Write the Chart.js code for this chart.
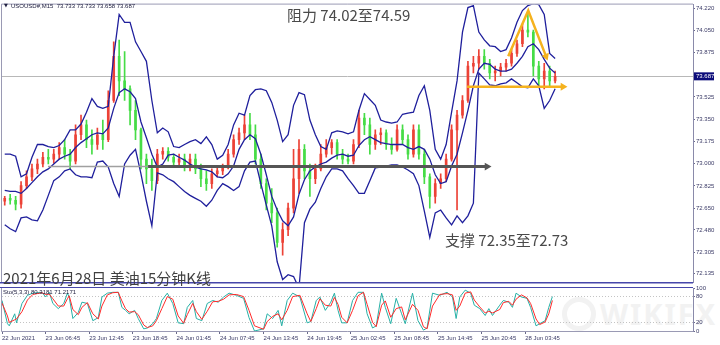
<!DOCTYPE html>
<html>
<head>
<meta charset="utf-8">
<title>USOUSD M15</title>
<script src="https://cdn.jsdelivr.net/npm/chart.js"></script>
<style>
  body { margin: 0; background: #fff; }
  #wrap { position: relative; width: 720px; height: 345px; overflow: hidden; background: #fff; }
  canvas { position: absolute; left: 0; }
  #priceChart { top: 0; }
  #stochChart { top: 282px; }
  .note { position: absolute; font-family: "Noto Sans CJK SC", sans-serif; color: #4a4a4a; white-space: nowrap; line-height: 1; font-size: 15px; }
  .mark { position: absolute; color: #f2f2f2; font-family: "Noto Sans", sans-serif; font-weight: bold; }
</style>
</head>
<body>
<div id="wrap">
  <div class="mark" style="left:562px; top:297px; width:24px; height:24px; border:5px solid #f2f2f2; border-radius:50%;"></div>
  <div class="mark" style="left:600px; top:294px; font-size:29px; letter-spacing:2px;">WIKIFX</div>
  <canvas id="priceChart" width="720" height="287"></canvas>
  <canvas id="stochChart" width="720" height="63"></canvas>
  <div class="note" style="left:287px; top:7px;">阻力 74.02至74.59</div>
  <div class="note" style="left:445px; top:232px;">支撑 72.35至72.73</div>
  <div class="note" style="left:3px; top:270px; color:#404040;">2021年6月28日 美油15分钟K线</div>
</div>

<script>
// 45-minute candles (one per 3 M15 bars)
const candleOpen = [
  72.705, 72.728, 72.713, 72.682, 72.828, 72.897, 72.959, 72.998, 73.051, 73.036,
  73.075, 73.127, 73.075, 73.021, 73.228, 73.305, 73.189, 73.151, 73.228, 73.189,
  73.497, 73.844, 73.651, 73.589, 73.420, 73.266, 73.036, 72.959, 72.867, 73.075,
  73.098, 73.051, 73.013, 73.036, 72.982, 73.036, 72.959, 72.882, 72.844, 72.921,
  72.944, 72.974, 73.075, 73.189, 73.243, 73.305, 73.228, 73.036, 72.844, 72.690,
  72.613, 72.382, 72.482, 72.651, 72.882, 73.113, 72.944, 72.882, 72.959, 73.075,
  73.127, 73.166, 73.075, 73.036, 73.021, 73.151, 73.358, 73.305, 73.151, 73.228,
  73.243, 73.151, 73.113, 73.266, 73.189, 73.075, 73.266, 73.075, 72.897, 72.743,
  72.844, 72.882, 73.036, 73.266, 73.382, 73.497, 73.767, 73.790, 73.844, 73.790,
  73.713, 73.728, 73.759, 73.790, 73.867, 73.943, 74.051, 74.035, 73.767, 73.667,
  73.728, 73.651
];
const candleHigh = [
  72.743, 72.759, 72.743, 72.859, 72.944, 72.998, 73.036, 73.090, 73.113, 73.113,
  73.166, 73.189, 73.113, 73.305, 73.382, 73.343, 73.266, 73.281, 73.343, 73.574,
  73.958, 73.973, 73.882, 73.613, 73.497, 73.281, 73.075, 73.036, 73.113, 73.127,
  73.127, 73.075, 73.075, 73.075, 73.075, 73.075, 72.998, 72.944, 72.959, 72.974,
  72.998, 73.113, 73.228, 73.281, 73.382, 73.397, 73.305, 73.075, 72.882, 72.805,
  72.651, 72.536, 72.690, 73.113, 73.189, 73.151, 72.998, 72.998, 73.151, 73.189,
  73.189, 73.189, 73.113, 73.075, 73.189, 73.420, 73.397, 73.358, 73.266, 73.281,
  73.266, 73.204, 73.305, 73.305, 73.228, 73.305, 73.305, 73.113, 72.921, 72.882,
  72.921, 73.075, 73.305, 73.420, 73.536, 73.805, 73.844, 73.897, 73.897, 73.820,
  73.767, 73.790, 73.820, 73.897, 73.973, 74.097, 74.174, 74.051, 73.805, 73.790,
  73.767, 73.728
];
const candleLow = [
  72.674, 72.682, 72.636, 72.651, 72.805, 72.867, 72.921, 72.974, 72.998, 73.005,
  73.036, 73.036, 72.959, 72.998, 73.189, 73.127, 73.075, 73.113, 73.113, 73.174,
  73.482, 73.536, 73.497, 73.305, 73.189, 72.959, 72.844, 72.790, 72.844, 73.036,
  73.021, 72.974, 72.974, 72.944, 72.944, 72.921, 72.820, 72.790, 72.805, 72.897,
  72.913, 72.959, 73.051, 73.151, 73.189, 73.189, 72.998, 72.805, 72.636, 72.536,
  72.344, 72.282, 72.435, 72.613, 72.767, 72.882, 72.743, 72.844, 72.944, 73.051,
  73.075, 73.036, 72.998, 72.998, 72.998, 73.127, 73.228, 73.075, 73.113, 73.151,
  73.113, 73.075, 73.098, 73.151, 73.036, 73.051, 73.036, 72.844, 72.651, 72.690,
  72.805, 72.859, 73.021, 72.636, 73.358, 73.482, 73.713, 73.744, 73.744, 73.667,
  73.651, 73.690, 73.728, 73.767, 73.844, 73.920, 73.997, 73.690, 73.613, 73.589,
  73.613, 73.636
];
const candleClose = [
  72.728, 72.713, 72.682, 72.828, 72.897, 72.959, 72.998, 73.051, 73.036, 73.075,
  73.127, 73.075, 73.021, 73.228, 73.305, 73.189, 73.151, 73.228, 73.189, 73.497,
  73.844, 73.651, 73.589, 73.420, 73.266, 73.036, 72.959, 72.867, 73.075, 73.098,
  73.051, 73.013, 73.036, 72.982, 73.036, 72.959, 72.882, 72.844, 72.921, 72.944,
  72.974, 73.075, 73.189, 73.243, 73.305, 73.228, 73.036, 72.844, 72.690, 72.613,
  72.382, 72.482, 72.651, 72.882, 73.113, 72.944, 72.882, 72.959, 73.075, 73.127,
  73.166, 73.075, 73.036, 73.021, 73.151, 73.358, 73.305, 73.151, 73.228, 73.243,
  73.151, 73.113, 73.266, 73.189, 73.075, 73.266, 73.075, 72.897, 72.743, 72.844,
  72.882, 73.036, 73.266, 73.382, 73.497, 73.767, 73.790, 73.844, 73.790, 73.713,
  73.728, 73.759, 73.790, 73.867, 73.943, 74.051, 74.035, 73.767, 73.667, 73.728,
  73.651, 73.687
];

// Bollinger bands read at each candle
const bandUpper = [
  73.075, 73.075, 73.059, 72.897, 72.921, 73.051, 73.151, 73.151, 73.135, 73.127,
  73.143, 73.189, 73.266, 73.266, 73.312, 73.405, 73.512, 73.451, 73.435, 73.451,
  73.844, 74.174, 74.112, 74.112, 73.958, 73.882, 73.805, 73.497, 73.243, 73.281,
  73.251, 73.135, 73.127, 73.151, 73.174, 73.189, 73.158, 73.212, 73.151, 73.036,
  73.067, 73.151, 73.305, 73.397, 73.382, 73.536, 73.582, 73.589, 73.574, 73.482,
  73.343, 73.174, 73.228, 73.459, 73.559, 73.543, 73.343, 73.228, 73.135, 73.113,
  73.243, 73.258, 73.251, 73.235, 73.251, 73.420, 73.551, 73.505, 73.459, 73.343,
  73.328, 73.320, 73.328, 73.389, 73.397, 73.405, 73.536, 73.613, 73.420, 73.113,
  73.036, 73.151, 73.405, 73.651, 74.035, 74.228, 74.243, 74.035, 73.973, 73.927,
  73.920, 73.882, 73.897, 73.989, 74.112, 74.204, 74.243, 74.258, 74.251, 74.174,
  73.867, 73.828
];
const bandMiddle = [
  72.790, 72.782, 72.782, 72.767, 72.805, 72.851, 72.897, 72.936, 72.959, 72.998,
  73.036, 73.059, 73.075, 73.127, 73.166, 73.197, 73.228, 73.243, 73.235, 73.281,
  73.435, 73.559, 73.589, 73.566, 73.512, 73.328, 73.204, 73.075, 72.974, 72.998,
  73.067, 73.075, 73.051, 73.028, 72.998, 72.974, 72.959, 72.951, 72.936, 72.897,
  72.890, 72.921, 72.982, 73.113, 73.189, 73.228, 73.197, 73.075, 72.913, 72.743,
  72.636, 72.551, 72.512, 72.582, 72.759, 72.874, 72.944, 72.974, 72.998, 73.013,
  73.044, 73.067, 73.075, 73.059, 73.067, 73.143, 73.189, 73.212, 73.189, 73.166,
  73.158, 73.151, 73.151, 73.151, 73.127, 73.113, 73.135, 73.113, 73.036, 72.913,
  72.844, 72.859, 72.982, 73.075, 73.243, 73.420, 73.613, 73.744, 73.790, 73.782,
  73.744, 73.728, 73.728, 73.744, 73.790, 73.844, 73.920, 73.943, 73.897, 73.820,
  73.751, 73.713
];
const bandLower = [
  72.520, 72.489, 72.466, 72.574, 72.582, 72.559, 72.551, 72.636, 72.751, 72.867,
  72.897, 72.944, 72.959, 72.913, 72.897, 72.897, 72.890, 73.013, 73.021, 72.974,
  72.844, 72.743, 72.998, 73.067, 73.113, 72.921, 72.705, 72.512, 72.928, 72.913,
  72.882, 72.859, 72.820, 72.782, 72.751, 72.728, 72.705, 72.666, 72.713, 72.790,
  72.844, 72.820, 72.790, 72.820, 72.944, 73.013, 73.021, 72.844, 72.674, 72.512,
  72.229, 72.090, 72.128, 72.113, 72.021, 72.536, 72.643, 72.697, 72.805, 72.897,
  72.959, 72.959, 72.944, 72.882, 72.828, 72.767, 72.767, 72.867, 72.967, 72.974,
  72.982, 72.990, 72.990, 72.974, 72.951, 72.921, 72.828, 72.628, 72.420, 72.613,
  72.636, 72.574, 72.520, 72.590, 72.536, 72.590, 72.690, 73.713, 73.667, 73.620,
  73.613, 73.628, 73.636, 73.667, 73.636, 73.605, 73.597, 73.667, 73.613, 73.435,
  73.497, 73.589
];

// Stochastic (5,3,3), sampled at M15 bar numbers
const stochBar = [
  0, 3, 4, 7, 8, 11, 14, 17, 22, 24,
  26, 28, 31, 34, 36, 37, 39, 42, 44, 47,
  50, 53, 55, 58, 61, 64, 66, 68, 70, 73,
  75, 78, 80, 83, 85, 88, 91, 94, 97, 100,
  102, 105, 107, 110, 113, 116, 119, 122, 125, 129,
  133, 136, 139, 144, 146, 149, 152, 154, 157, 160,
  164, 168, 170, 173, 175, 178, 181, 183, 185, 187,
  190, 193, 196, 199, 201, 204, 206, 209, 211, 214,
  217, 220, 222, 226, 229, 232, 234, 237, 241, 245,
  248, 250, 252, 255, 258, 260, 263, 266, 268, 270,
  274, 276, 279, 281, 283, 286, 289, 291, 294, 296,
  299, 301, 303
];
const stochMain = [
  71, 17, 12, 40, 19, 64, 83, 88, 90, 79,
  90, 64, 52, 64, 88, 79, 29, 43, 67, 64,
  24, 31, 79, 88, 90, 90, 55, 48, 40, 48,
  29, 5, 7, 17, 29, 71, 88, 64, 19, 17,
  55, 71, 29, 24, 64, 71, 67, 79, 88, 83,
  76, 31, 0, 5, 40, 29, 48, 12, 71, 88,
  79, 19, 22, 71, 79, 48, 67, 88, 48, 19,
  19, 71, 90, 90, 40, 7, 12, 88, 55, 17,
  76, 40, 17, 88, 24, 2, 7, 88, 83, 90,
  79, 29, 79, 95, 88, 60, 52, 36, 52, 36,
  60, 71, 67, 55, 88, 79, 76, 55, 12, 17,
  24, 55, 80
];
const stochSignal = [
  65, 35, 20, 26, 28, 45, 72, 85, 89, 85,
  86, 75, 58, 58, 75, 82, 50, 38, 55, 66,
  40, 28, 58, 84, 89, 90, 70, 52, 44, 45,
  38, 14, 8, 12, 24, 52, 80, 74, 35, 18,
  38, 64, 45, 27, 46, 68, 69, 74, 84, 85,
  80, 48, 12, 4, 22, 34, 40, 26, 48, 80,
  83, 40, 22, 52, 75, 60, 58, 78, 62, 32,
  19, 48, 82, 90, 62, 20, 10, 60, 70, 32,
  52, 56, 26, 62, 48, 10, 5, 58, 85, 87,
  84, 48, 58, 88, 91, 72, 56, 42, 46, 42,
  50, 66, 69, 60, 74, 84, 77, 64, 28, 15,
  21, 40, 71
];

const priceTicks = [74.22, 74.05, 73.875, 73.525, 73.35, 73.175, 73.0, 72.825, 72.65, 72.48, 72.305, 72.135];
const stochTicks = [0, 20, 80, 100];
const timeTickBars = [0, 24, 48, 72, 96, 120, 144, 168, 192, 216, 240, 264, 288];
const timeLabels = ['22 Jun 2021', '23 Jun 06:45', '23 Jun 12:45', '23 Jun 18:45', '24 Jun 01:45', '24 Jun 07:45',
  '24 Jun 13:45', '24 Jun 19:45', '25 Jun 02:45', '25 Jun 08:45', '25 Jun 14:45', '25 Jun 20:45', '28 Jun 03:45'];
const legendValues = ['73.733', '73.733', '73.658', '73.687'];
const stochLegend = ['80.3181', '71.2171'];

// drawn levels (bar number, price)
const supportLevel = 72.978;
const supportFaint = [25.3, 80.4];
const supportArrow = [80.4, 267];
const triangleBars = [278.7, 289.7, 299.5];
const trianglePrices = [73.844, 74.204, 73.844];
const neckLevel = 73.605;
const neckBars = [256, 308.8];

const xMax = 380.4;
const axisFont = { family: 'Liberation Sans', size: 6 };
const axisColor = '#3a3a66';
const upColor = '#ec4236';
const downColor = '#46dc46';
const bandColor = '#1f1f9c';
const orange = '#f5b21e';

const candleBar = candleClose.map((c, i) => 3 * i + 1.5);
const candleColor = candleClose.map((c, i) => c >= candleOpen[i] ? upColor : downColor);
const lastPrice = candleClose[candleClose.length - 1];

function band(arr) {
  return {
    type: 'line', data: candleBar.map((x, i) => ({ x: x, y: arr[i] })),
    borderColor: bandColor, borderWidth: 1.3, pointRadius: 0, tension: 0, order: 2
  };
}

function arrowLine(points, color, width, rotation) {
  const last = points.length - 1;
  return {
    type: 'line', data: points, borderColor: color, borderWidth: width,
    backgroundColor: color, pointStyle: 'triangle', tension: 0, order: 1,
    pointRadius: ctx => (rotation !== null && ctx.dataIndex === last) ? 4.5 : 0,
    pointRotation: rotation || 0, pointBorderWidth: 0
  };
}

const priceOverlay = {
  id: 'priceOverlay',
  beforeDatasetsDraw(chart) {
    const { ctx, chartArea: a, scales: { y } } = chart;
    const py = Math.round(y.getPixelForValue(lastPrice)) + 0.5;
    ctx.save();
    ctx.strokeStyle = '#b8b8b8';
    ctx.lineWidth = 1;
    ctx.beginPath(); ctx.moveTo(a.left, py); ctx.lineTo(a.right, py); ctx.stroke();
    ctx.restore();
  },
  afterDraw(chart) {
    const { ctx, chartArea: a, scales: { y } } = chart;
    ctx.save();
    ctx.strokeStyle = '#9a9ab4';
    ctx.lineWidth = 1;
    ctx.beginPath();
    ctx.moveTo(a.left - 0.5, a.bottom); ctx.lineTo(a.left - 0.5, a.top - 0.5); ctx.lineTo(a.right, a.top - 0.5);
    ctx.stroke();
    ctx.strokeStyle = '#4646aa';
    ctx.lineWidth = 1.5;
    ctx.beginPath(); ctx.moveTo(0, a.bottom + 0.25); ctx.lineTo(a.right, a.bottom + 0.25); ctx.stroke();

    // current price tag
    const py = y.getPixelForValue(lastPrice);
    ctx.fillStyle = '#0c0c7a';
    ctx.fillRect(a.right + 1, py - 4, 20, 8);
    ctx.font = '6px "Liberation Sans"';
    ctx.textBaseline = 'middle';
    ctx.fillStyle = '#ffffff';
    ctx.fillText(lastPrice.toFixed(3), a.right + 3, py + 0.5);

    // symbol legend
    ctx.fillStyle = '#202040';
    ctx.font = '5px "DejaVu Sans"';
    ctx.fillText('▼', 4, 6);
    ctx.font = '6px "Liberation Sans"';
    ctx.fillText('USOUSD#,M15  ' + legendValues.join(' '), 11, 6);
    ctx.restore();
  }
};

const stochOverlay = {
  id: 'stochOverlay',
  afterDraw(chart) {
    const { ctx, chartArea: a } = chart;
    ctx.save();
    ctx.strokeStyle = '#4646aa';
    ctx.lineWidth = 1.2;
    ctx.beginPath(); ctx.moveTo(0, a.top - 0.5); ctx.lineTo(a.right, a.top - 0.5); ctx.stroke();
    ctx.strokeStyle = '#9a9ab4';
    ctx.lineWidth = 1;
    ctx.beginPath();
    ctx.moveTo(a.left - 0.5, a.top); ctx.lineTo(a.left - 0.5, a.bottom + 0.5); ctx.lineTo(a.right, a.bottom + 0.5);
    ctx.stroke();
    ctx.fillStyle = '#202040';
    ctx.font = '6px "Liberation Sans"';
    ctx.textBaseline = 'middle';
    ctx.fillText('Sto(5,3,3) ' + stochLegend.join(' '), 3, a.top + 4);
    ctx.restore();
  }
};

new Chart(document.getElementById('priceChart'), {
  type: 'bar',
  data: {
    datasets: [
      { type: 'bar', data: candleBar.map((x, i) => ({ x: x, y: [candleLow[i], candleHigh[i]] })),
        backgroundColor: candleColor, barThickness: 1, grouped: false, order: 4 },
      { type: 'bar', data: candleBar.map((x, i) => ({ x: x, y: [candleOpen[i], candleClose[i]] })),
        backgroundColor: candleColor, barThickness: 2, minBarLength: 1, grouped: false, order: 3 },
      band(bandUpper),
      band(bandMiddle),
      band(bandLower),
      arrowLine(supportFaint.map(x => ({ x: x, y: supportLevel })), '#a0a0a0', 1.5, null),
      arrowLine(supportArrow.map(x => ({ x: x, y: supportLevel })), '#555555', 3, 90),
      arrowLine(triangleBars.map((x, i) => ({ x: x, y: trianglePrices[i] })), orange, 2.5, 159),
      arrowLine(neckBars.map(x => ({ x: x, y: neckLevel })), orange, 2.5, 90)
    ]
  },
  options: {
    responsive: false,
    animation: false,
    layout: { padding: { left: 2, top: 2, right: 0, bottom: 1 }, autoPadding: false },
    plugins: { legend: { display: false }, tooltip: { enabled: false } },
    scales: {
      x: { type: 'linear', min: 0, max: xMax, offset: false, display: false },
      y: {
        position: 'right', min: 72.067, max: 74.251,
        afterFit(s) { s.width = 27; },
        afterBuildTicks(s) { s.ticks = priceTicks.map(v => ({ value: v })); },
        ticks: { callback: v => v.toFixed(3), font: axisFont, color: axisColor, padding: 1, autoSkip: false },
        grid: { drawOnChartArea: false, tickLength: 2, color: '#6a6a8a' },
        border: { color: '#8a8aaa' }
      }
    }
  },
  plugins: [priceOverlay]
});

new Chart(document.getElementById('stochChart'), {
  type: 'line',
  data: {
    datasets: [
      { data: stochBar.map((x, i) => ({ x: x, y: stochSignal[i] })), borderColor: '#ff2a2a', borderWidth: 1, pointRadius: 0, tension: 0 },
      { data: stochBar.map((x, i) => ({ x: x, y: stochMain[i] })), borderColor: '#26b0a6', borderWidth: 1, pointRadius: 0, tension: 0 }
    ]
  },
  options: {
    responsive: false,
    animation: false,
    layout: { padding: { left: 2, top: 6, right: 0, bottom: 0 }, autoPadding: false },
    plugins: { legend: { display: false }, tooltip: { enabled: false } },
    scales: {
      x: {
        type: 'linear', min: 0, max: xMax, offset: false, position: 'bottom',
        afterFit(s) { s.height = 14; },
        afterBuildTicks(s) { s.ticks = timeTickBars.map(v => ({ value: v })); },
        ticks: { autoSkip: false, maxRotation: 0, align: 'start', padding: 1, font: axisFont, color: axisColor,
                 callback: (v, i) => timeLabels[i] },
        grid: { drawOnChartArea: false, tickLength: 3, color: '#6a6a8a' },
        border: { display: false }
      },
      y: {
        position: 'right', min: 0, max: 100,
        afterFit(s) { s.width = 27; },
        afterBuildTicks(s) { s.ticks = stochTicks.map(v => ({ value: v })); },
        ticks: { font: axisFont, color: axisColor, padding: 1, autoSkip: false },
        grid: {
          color: c => (c.tick && (c.tick.value === 20 || c.tick.value === 80)) ? '#c4c4c4' : 'rgba(0,0,0,0)',
          tickColor: '#6a6a8a', tickLength: 2
        },
        border: { color: '#8a8aaa', dash: [1, 2] }
      }
    }
  },
  plugins: [stochOverlay]
});
</script>
</body>
</html>
